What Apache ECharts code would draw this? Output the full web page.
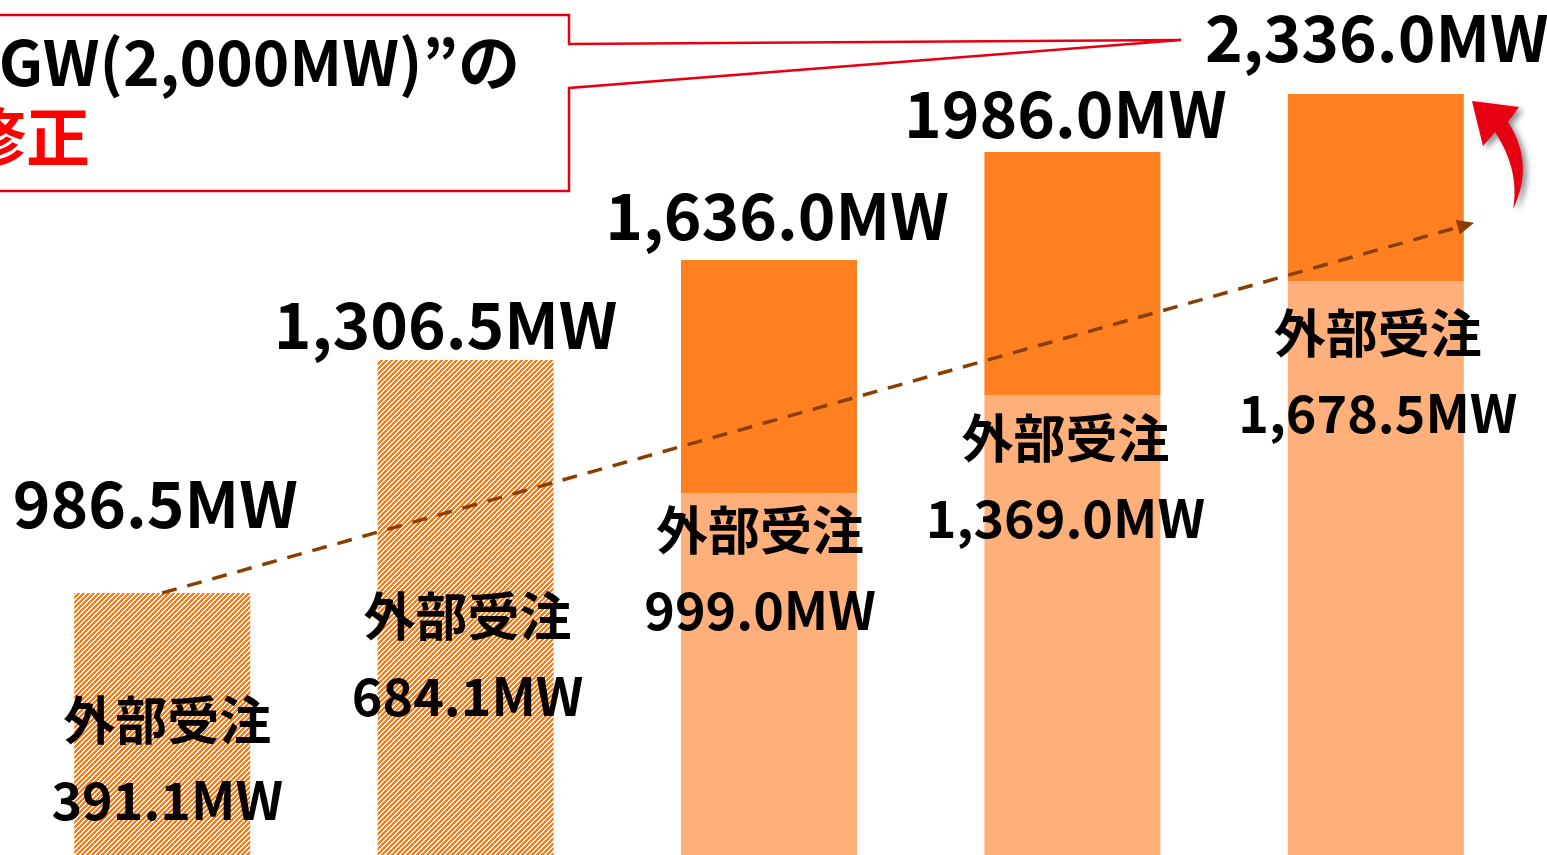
<!DOCTYPE html>
<html>
<head>
<meta charset="utf-8">
<title>外部受注</title>
<script src="https://cdn.jsdelivr.net/npm/echarts@6/dist/echarts.min.js"></script>
<style>
  html, body { margin: 0; padding: 0; background: #fff; }
  #main { width: 1547px; height: 855px; }
</style>
</head>
<body>
<div id="main"></div>
<script>
// 区分（軸は非表示）
var categories = ['1', '2', '3', '4', '5'];
// 合計ラベル / 外部受注ラベル
var totalLabels = ['986.5MW', '1,306.5MW', '1,636.0MW', '1986.0MW', '2,336.0MW'];
var externalLabels = ['391.1MW', '684.1MW', '999.0MW', '1,369.0MW', '1,678.5MW'];
// 図上の棒の高さ（原図は縮尺どおりではないので見た目から読み取り）
var totalHeights = [262, 495, 595, 703, 761];
var externalHeights = [262, 495, 362, 460, 574];
// 斜線（見込み）の棒
var hatched = [true, true, false, false, false];

// ラベル位置の微調整
var totalOffsets = [[-7, -89], [-20, -35], [8, -44], [-7, -38], [1, -56]];
var innerOffsets = [[5, 87], [2, 216], [-9, -3], [-7, 3], [2, 12]];

var FONT = '"Noto Sans CJK JP", "Noto Sans CJK SC", sans-serif';

// 斜線パターン
function makeHatch() {
  var c = document.createElement('canvas');
  var p = 5;
  c.width = p; c.height = p;
  var ctx = c.getContext('2d');
  ctx.fillStyle = '#fff';
  ctx.fillRect(0, 0, p, p);
  ctx.fillStyle = '#FF7A14';
  for (var x = 0; x < p; x++) {
    for (var y = 0; y < p; y++) {
      if ((x + y) % p < 3) ctx.fillRect(x, y, 1, 1);
    }
  }
  return c;
}
var hatch = makeHatch();

// 赤い曲がり矢印の輪郭（二次ベジェを折れ線に）
function quad(p0, c, p1, n) {
  var pts = [];
  for (var i = 1; i <= n; i++) {
    var t = i / n, u = 1 - t;
    pts.push([u * u * p0[0] + 2 * u * t * c[0] + t * t * p1[0],
              u * u * p0[1] + 2 * u * t * c[1] + t * t * p1[1]]);
  }
  return pts;
}
var arrowPts = [[1472, 101], [1519, 107], [1508, 122]]
  .concat(quad([1508, 122], [1535, 164], [1513, 209], 16))
  .concat(quad([1513, 209], [1520, 170], [1495, 132], 16))
  .concat([[1483, 146]]);

var lowerData = externalHeights.map(function (v, i) {
  return {
    value: v,
    itemStyle: { color: hatched[i] ? { image: hatch, repeat: 'repeat' } : '#FFB07A' },
    label: { offset: innerOffsets[i] }
  };
});
var upperData = totalHeights.map(function (v, i) {
  return v - externalHeights[i];
});
var topData = totalHeights.map(function (v, i) {
  return { value: v, label: { offset: totalOffsets[i] } };
});

var myChart = echarts.init(document.getElementById('main'));

var option = {
  animation: false,
  grid: { left: 10.5, right: 19.5, top: 0, bottom: 0 },
  xAxis: { type: 'category', data: categories, show: false },
  yAxis: { type: 'value', min: 0, max: 855, show: false },
  series: [
    {
      name: '外部受注',
      type: 'bar',
      stack: 'a',
      barWidth: 176,
      data: lowerData,
      silent: true,
      label: {
        show: true,
        position: 'insideTop',
        distance: 0,
        formatter: function (p) { return '外部受注\n' + externalLabels[p.dataIndex]; },
        color: '#000',
        fontFamily: FONT,
        fontWeight: 'bold',
        fontSize: 52,
        lineHeight: 80
      },
      markLine: {
        silent: true,
        symbol: ['none', 'triangle'],
        symbolSize: [15, 17],
        label: { show: false },
        lineStyle: { color: '#8A3F00', width: 3.5, type: [15, 11] },
        data: [[{ coord: [0, totalHeights[0]] }, { x: 1466, y: 225 }]]
      }
    },
    {
      name: '自社',
      type: 'bar',
      stack: 'a',
      barWidth: 176,
      silent: true,
      itemStyle: { color: '#FF8020' },
      data: upperData
    },
    {
      name: '合計',
      type: 'scatter',
      symbolSize: 0,
      silent: true,
      z: 5,
      itemStyle: { opacity: 1 },
      data: topData,
      label: {
        show: true,
        position: 'inside',
        formatter: function (p) { return totalLabels[p.dataIndex]; },
        color: '#000',
        opacity: 1,
        fontFamily: FONT,
        fontWeight: 'bold',
        fontSize: 64
      }
    }
  ],
  graphic: [
    {
      type: 'polygon',
      z: 10,
      shape: { points: [[-5, 15], [569, 15], [569, 44], [1181, 40], [569, 88], [569, 191], [-5, 191]] },
      style: { fill: null, stroke: '#E60012', lineWidth: 2.5 }
    },
    {
      type: 'text',
      z: 11,
      x: 520,
      y: 62,
      style: {
        text: 'GW(2,000MW)”の',
        fill: '#000',
        fontFamily: FONT,
        fontSize: 62,
        fontWeight: 'bold',
        align: 'right',
        verticalAlign: 'middle'
      }
    },
    {
      type: 'text',
      z: 11,
      x: 90,
      y: 137,
      style: {
        text: '修正',
        fill: '#FF0000',
        fontFamily: FONT,
        fontSize: 64,
        fontWeight: 'bold',
        align: 'right',
        verticalAlign: 'middle'
      }
    },
    {
      // 赤い曲がり矢印
      type: 'polygon',
      z: 10,
      shape: { points: arrowPts },
      style: {
        fill: '#E60012',
        shadowColor: 'rgba(0,0,0,0.45)',
        shadowBlur: 6,
        shadowOffsetX: 4,
        shadowOffsetY: 3
      }
    }
  ]
};

myChart.setOption(option);
</script>
</body>
</html>
